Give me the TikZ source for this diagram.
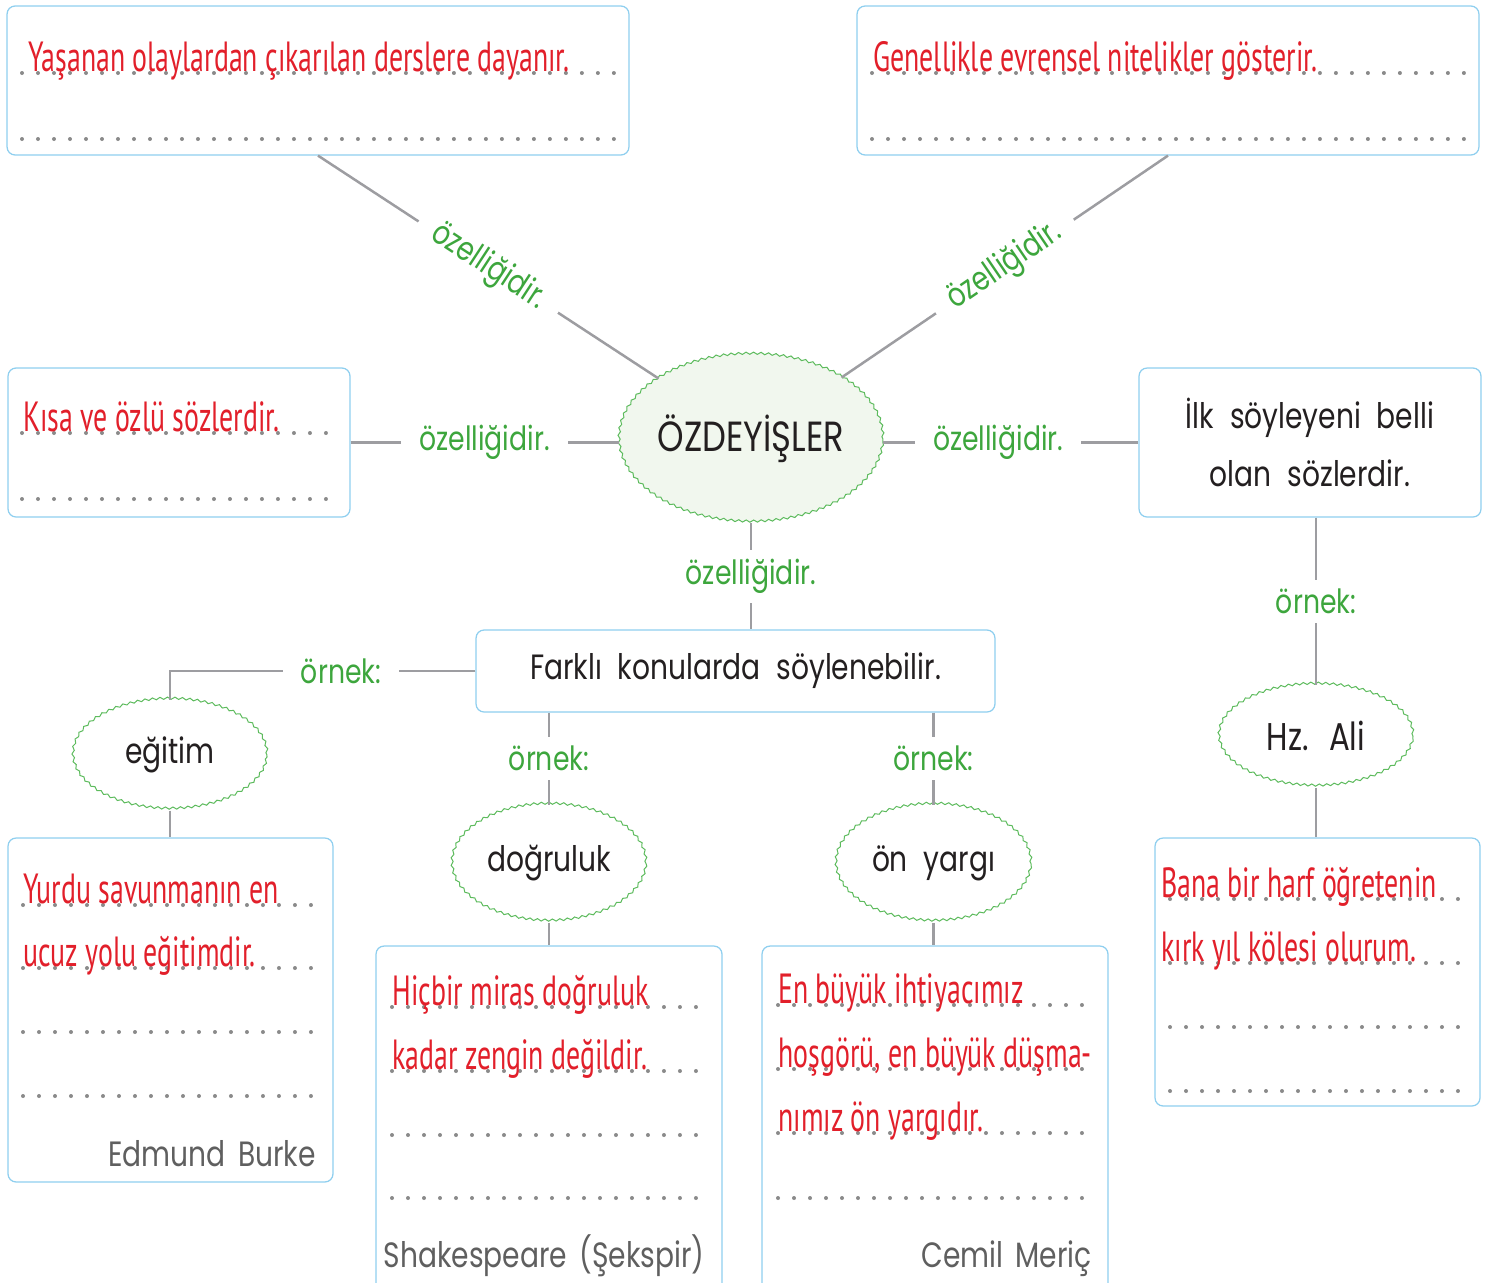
\documentclass[tikz,border=0pt]{standalone}
\usepackage{fontspec}
\usepackage{tikz}
\usetikzlibrary{shapes,arrows,positioning,decorations.pathmorphing}
\setmainfont{Poppins}[FakeStretch=0.8]
\newfontfamily\handfont{PT Sans}[FakeStretch=0.66]
\newcommand\wordgap{\spaceskip=0.45em\relax}
\newcommand\namegap{\spaceskip=0.35em\relax}
\definecolor{boxblue}{HTML}{8FCFEF}
\definecolor{linegray}{HTML}{9D9DA1}
\definecolor{lblgreen}{HTML}{3DA63D}
\definecolor{wavegreen}{HTML}{5DBB5D}
\definecolor{ansred}{HTML}{E21F2A}
\definecolor{authgray}{HTML}{5F5F5F}
\definecolor{dotgray}{HTML}{8A8A8A}
\definecolor{ovalfill}{HTML}{F1F7EE}
\definecolor{inkblack}{HTML}{231F20}
\tikzstyle{rounded box} = [rectangle, rounded corners=0.16cm, draw=boxblue, line width=0.025cm, fill=white, text=inkblack]
\tikzstyle{wavy oval} = [ellipse, draw=wavegreen, line width=0.02cm, fill=white, text=inkblack, inner sep=0pt, decorate, decoration={snake, segment length=0.15cm, amplitude=0.022cm}, font=\fontsize{20}{20}\selectfont\wordgap]
\tikzstyle{link} = [draw=linegray, line width=0.05cm]
\tikzstyle{lbl} = [fill=white, text=lblgreen, inner xsep=0.36cm, inner ysep=0.18cm, font=\fontsize{19}{19}\selectfont]
\tikzstyle{answer} = [anchor=base west, inner sep=0pt, text=ansred, font=\handfont\fontsize{24}{24}\selectfont]
\tikzstyle{author} = [anchor=base east, inner sep=0pt, text=authgray, font=\fontsize{20}{20}\selectfont\namegap]
\tikzstyle{dot line} = [dotgray, line width=0.08cm, line cap=round, dash pattern=on 0pt off 0.32cm]

\begin{document}
\begin{tikzpicture}[x=0.02cm, y=-0.02cm]
    \useasboundingbox (0,0) rectangle (1493,1282);

    % centre and the four properties
    \node (OZ) [wavy oval, fill=ovalfill, minimum width=5.28cm, minimum height=3.36cm, font=\fontsize{24}{24}\selectfont] at (751,439) {ÖZDEYİŞLER};
    \node (TL) [rounded box, minimum width=12.44cm, minimum height=2.98cm] at (318,80.5) {};
    \node (TR) [rounded box, minimum width=12.44cm, minimum height=2.98cm] at (1168,80.5) {};
    \node (KS) [rounded box, minimum width=6.84cm, minimum height=2.98cm] at (179,442.5) {};
    \node (IS) [rounded box, minimum width=6.84cm, minimum height=2.98cm, align=center, font=\fontsize{20}{33}\selectfont\wordgap] at (1310,442.5) {İlk söyleyeni belli\\olan sözlerdir.};
    \node (FK) [rounded box, minimum width=10.38cm, minimum height=1.64cm, font=\fontsize{20}{20}\selectfont\wordgap] at (735.5,671) {Farklı konularda söylenebilir.};

    % examples
    \node (EG) [wavy oval, minimum width=3.88cm, minimum height=2.2cm] at (170,755) {eğitim};
    \node (DG) [wavy oval, minimum width=3.88cm, minimum height=2.34cm] at (549,863.5) {doğruluk};
    \node (OY) [wavy oval, minimum width=3.9cm, minimum height=2.34cm] at (933.5,863.5) {ön yargı};
    \node (HA) [wavy oval, minimum width=3.88cm, minimum height=2.04cm, font=\fontsize{22}{22}\selectfont\wordgap] at (1316,736) {Hz. Ali};

    % quotation boxes
    \node (EB) [rounded box, minimum width=6.5cm, minimum height=6.88cm] at (170.5,1010) {};
    \node (SH) [rounded box, minimum width=6.92cm, minimum height=7.08cm] at (549,1123) {};
    \node (CM) [rounded box, minimum width=6.92cm, minimum height=7.08cm] at (935,1123) {};
    \node (BN) [rounded box, minimum width=6.5cm, minimum height=5.36cm] at (1317.5,972) {};

    % connectors
    \draw[link] (TL.south) -- node[lbl, sloped] {özelliğidir.} (OZ);
    \draw[link] (TR.south) -- node[lbl, sloped] {özelliğidir.} (OZ);
    \draw[link] (KS.east) -- node[lbl] {özelliğidir.} (KS.east -| OZ.west);
    \draw[link] (OZ.east |- IS.west) -- node[lbl, pos=0.45] {özelliğidir.} (IS.west);
    \draw[link] (OZ.south) -- node[lbl] {özelliğidir.} (OZ.south |- FK.north);
    \draw[link] (FK.west) -- node[lbl, pos=0.44] {örnek:} (EG |- FK.west) -- (EG.north);
    \draw[link] (DG |- FK.south) -- node[lbl] {örnek:} (DG.north);
    \draw[link] (OY |- FK.south) -- node[lbl] {örnek:} (OY.north);
    \draw[link] (HA |- IS.south) -- node[lbl] {örnek:} (HA.north);
    \draw[link] (EG.south) -- (EG.south |- EB.north);
    \draw[link] (DG.south) -- (DG.south |- SH.north);
    \draw[link] (OY.south) -- (OY.south |- CM.north);
    \draw[link] (HA.south) -- (HA.south |- BN.north);

    % dotted writing lines
    \foreach \y in {73,139} {
        \draw[dot line] (22,\y) -- (615,\y);
        \draw[dot line] (872,\y) -- (1465,\y);
    }
    \foreach \y in {433,499} \draw[dot line] (22,\y) -- (335,\y);
    \foreach \y in {905,968,1032,1096} \draw[dot line] (23,\y) -- (318,\y);
    \foreach \y in {1007,1071,1135,1198} \draw[dot line] (392,\y) -- (706,\y);
    \foreach \y in {1005,1069,1133,1198} \draw[dot line] (778,\y) -- (1092,\y);
    \foreach \y in {899,963,1027,1091} \draw[dot line] (1170,\y) -- (1465,\y);

    % answers
    \node (TLa) [answer] at (28,71) {Yaşanan olaylardan çıkarılan derslere dayanır.};
    \node (TRa) [answer] at (873,71) {Genellikle evrensel nitelikler gösterir.};
    \node (KSa) [answer] at (23,431) {Kısa ve özlü sözlerdir.};
    \node (EBa) [answer] at (23,903) {Yurdu savunmanın en};
    \node (EBb) [answer] at (23,966) {ucuz yolu eğitimdir.};
    \node (SHa) [answer] at (392,1005) {Hiçbir miras doğruluk};
    \node (SHb) [answer] at (392,1069) {kadar zengin değildir.};
    \node (CMa) [answer] at (778,1003) {En büyük ihtiyacımız};
    \node (CMb) [answer] at (778,1067) {hoşgörü, en büyük düşma-};
    \node (CMc) [answer] at (778,1131) {nımız ön yargıdır.};
    \node (BNa) [answer] at (1161,897) {Bana bir harf öğretenin};
    \node (BNb) [answer] at (1161,961) {kırk yıl kölesi olurum.};

    % authors
    \node (EBn) [author] at (316,1166) {Edmund Burke};
    \node (SHn) [author] at (705,1267) {Shakespeare (Şekspir)};
    \node (CMn) [author] at (1092,1267) {Cemil Meriç};
\end{tikzpicture}
\end{document}
